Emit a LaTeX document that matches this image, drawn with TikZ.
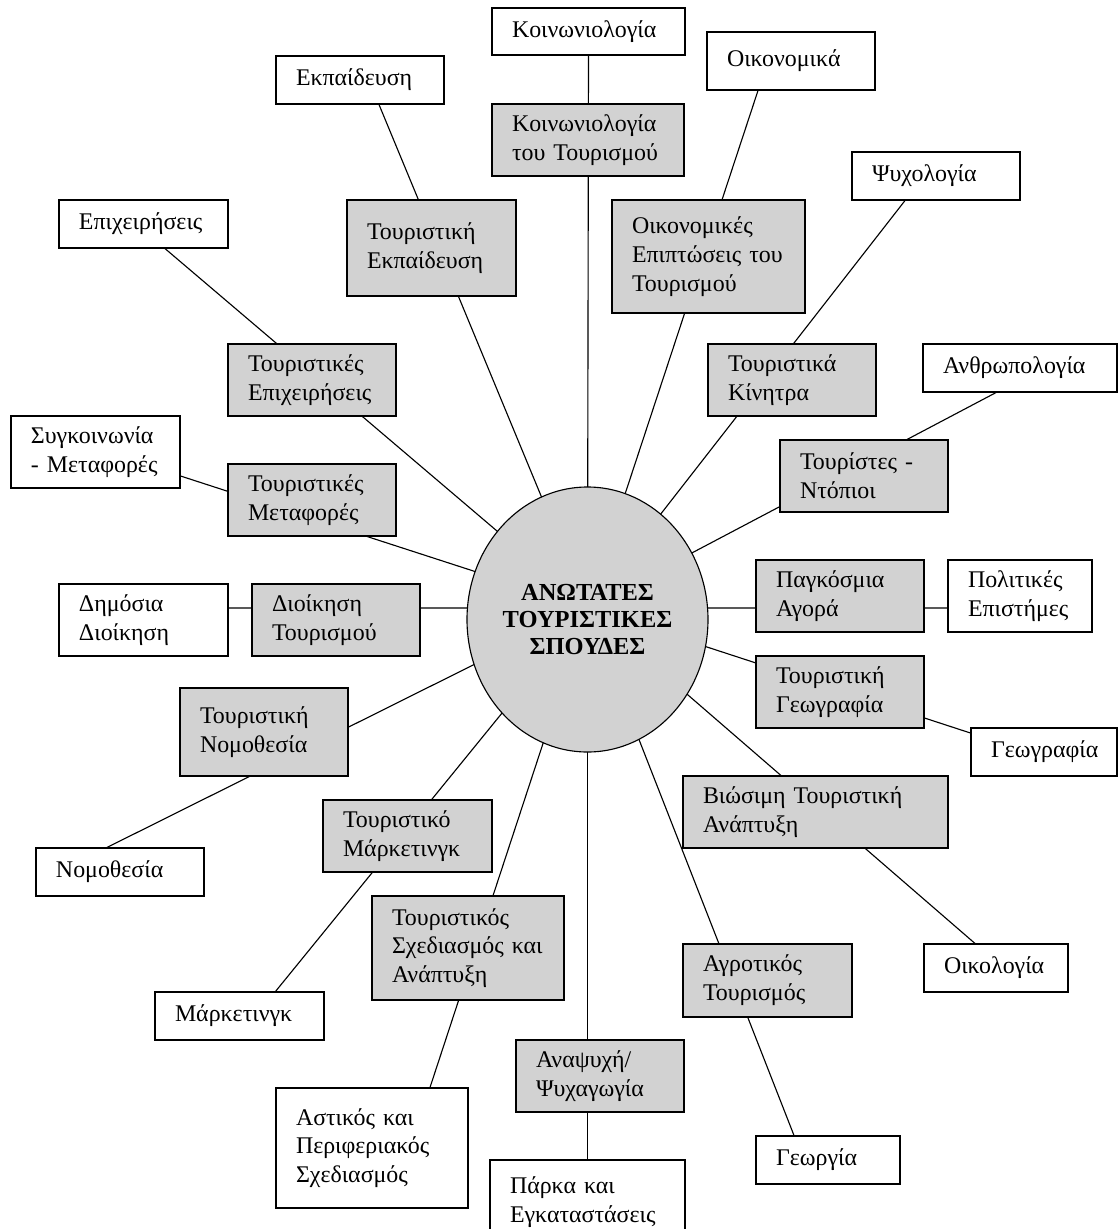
\documentclass[tikz,border=0pt]{standalone}
\usepackage{fontspec}
\setmainfont{Liberation Serif}
\usetikzlibrary{shapes.geometric,backgrounds}
\definecolor{boxgray}{RGB}{210,210,210}
\tikzset{studybox/.style={draw=black,line width=0.8pt,fill=white,align=left,inner xsep=0.5cm,inner ysep=1pt,text width=3.2cm,minimum height=1.2cm,font=\fontsize{17}{20.5}\selectfont}}
\tikzset{topicbox/.style={studybox,fill=boxgray,minimum height=1.8cm}}
\tikzset{spoke/.style={draw=black,line width=0.8pt}}

\begin{document}
\begin{tikzpicture}[x=0.25mm,y=-0.25mm]

	\useasboundingbox (0,0) rectangle (1120,1229);
	\clip (0,0) rectangle (1120,1229);

	\node[draw,line width=0.8pt,fill=boxgray,ellipse,minimum width=6.025cm,minimum height=6.625cm,inner sep=0pt,align=center,font=\fontsize{17.4}{19.4}\selectfont\bfseries] (hub) at (587.5,619.5) {ΑΝΩΤΑΤΕΣ\\ΤΟΥΡΙΣΤΙΚΕΣ\\ΣΠΟΥΔΕΣ};
	\coordinate (hubc) at (587.5,608);

	\node[studybox,text width=3.825cm,minimum height=1.175cm] (socio) at (588.5,31.5) {Κοινωνιολογία};
	\node[studybox,minimum height=1.45cm] (econ) at (791,61) {Οικονομικά};
	\node[studybox] (edu) at (360,80) {Εκπαίδευση};
	\node[studybox] (psych) at (936,176) {Ψυχολογία};
	\node[studybox,text width=3.225cm] (biz) at (143.5,224) {Επιχειρήσεις};
	\node[studybox,text width=3.85cm] (anthro) at (1020,368) {Ανθρωπολογία};
	\node[studybox,text width=3.225cm,minimum height=1.8cm] (transport) at (95.5,452) {Συγκοινωνία\\-~Μεταφορές};
	\node[studybox,text width=3.225cm,minimum height=1.8cm] (pubadm) at (143.5,620) {Δημόσια\\Διοίκηση};
	\node[studybox,text width=2.6cm,minimum height=1.8cm] (polsci) at (1020,596) {Πολιτικές\\Επιστήμες};
	\node[studybox,text width=2.65cm] (geo) at (1044,752) {Γεωγραφία};
	\node[studybox] (law) at (120,872) {Νομοθεσία};
	\node[studybox,text width=3.225cm] (mkt) at (239.5,1016) {Μάρκετινγκ};
	\node[studybox,text width=3.8cm,minimum height=3cm] (urban) at (372,1148) {Αστικός~και\\Περιφεριακός\\Σχεδιασμός};
	\node[studybox,text width=3.875cm,minimum height=2.125cm] (parks) at (587.5,1202.5) {Πάρκα~και\\Εγκαταστάσεις};
	\node[studybox,text width=2.6cm] (farm) at (828,1160) {Γεωργία};
	\node[studybox,text width=2.6cm] (eco) at (996,968) {Οικολογία};

	\node[topicbox,text width=3.8cm] (socT) at (588,140) {Κοινωνιολογία\\του~Τουρισμού};
	\node[topicbox,text width=3.225cm,minimum height=2.4cm] (eduT) at (431.5,248) {Τουριστική\\Εκπαίδευση};
	\node[topicbox,text width=3.825cm,minimum height=2.825cm] (econT) at (708.5,256.5) {Οικονομικές\\Επιπτώσεις~του\\Τουρισμού};
	\node[topicbox] (bizT) at (312,380) {Τουριστικές\\Επιχειρήσεις};
	\node[topicbox] (motiv) at (792,380) {Τουριστικά\\Κίνητρα};
	\node[topicbox] (locals) at (864,476) {Τουρίστες~-\\Ντόπιοι};
	\node[topicbox] (transT) at (312,500) {Τουριστικές\\Μεταφορές};
	\node[topicbox] (admT) at (336,620) {Διοίκηση\\Τουρισμού};
	\node[topicbox] (market) at (840,596) {Παγκόσμια\\Αγορά};
	\node[topicbox] (geoT) at (840,692) {Τουριστική\\Γεωγραφία};
	\node[topicbox,minimum height=2.2cm] (lawT) at (264,732) {Τουριστική\\Νομοθεσία};
	\node[topicbox,text width=5.625cm] (sustain) at (815.5,812) {Βιώσιμη~Τουριστική\\Ανάπτυξη};
	\node[topicbox,text width=3.225cm] (mktT) at (407.5,836) {Τουριστικό\\Μάρκετινγκ};
	\node[topicbox,text width=3.8cm,minimum height=2.6cm] (plan) at (468,948) {Τουριστικός\\Σχεδιασμός~και\\Ανάπτυξη};
	\node[topicbox,text width=3.225cm,minimum height=1.825cm] (agro) at (767.5,980.5) {Αγροτικός\\Τουρισμός};
	\node[topicbox] (leisure) at (600,1076) {Αναψυχή/\\Ψυχαγωγία};

	\begin{scope}[on background layer]
		\draw[spoke] (hubc) -- (socio.south);
		\draw[spoke] (hubc) -- ([xshift=-0.825cm]econ.south);
		\draw[spoke] (hubc) -- ([xshift=-0.775cm]psych.south);
		\draw[spoke] (hubc) -- ([xshift=-0.6cm]anthro.south);
		\draw[spoke] (hubc) -- ([yshift=-0.3cm]polsci.west);
		\draw[spoke] (hubc) -- ([yshift=0.475cm]geo.west);
		\draw[spoke] (hubc) -- ([xshift=-0.525cm]eco.north);
		\draw[spoke] (hubc) -- ([xshift=-0.85cm]farm.north);
		\draw[spoke] (hubc) -- (parks.north);
		\draw[spoke] (hubc) -- ([xshift=1.45cm]urban.north);
		\draw[spoke] (hubc) -- ([xshift=0.9cm]mkt.north);
		\draw[spoke] (hubc) -- ([xshift=-0.325cm]law.north);
		\draw[spoke] (hubc) -- ([yshift=0.3cm]pubadm.east);
		\draw[spoke] (hubc) -- ([yshift=-0.6cm]transport.east);
		\draw[spoke] (hubc) -- ([xshift=0.5375cm]biz.south);
		\draw[spoke] (hubc) -- ([xshift=0.475cm]edu.south);
	\end{scope}

\end{tikzpicture}
\end{document}
